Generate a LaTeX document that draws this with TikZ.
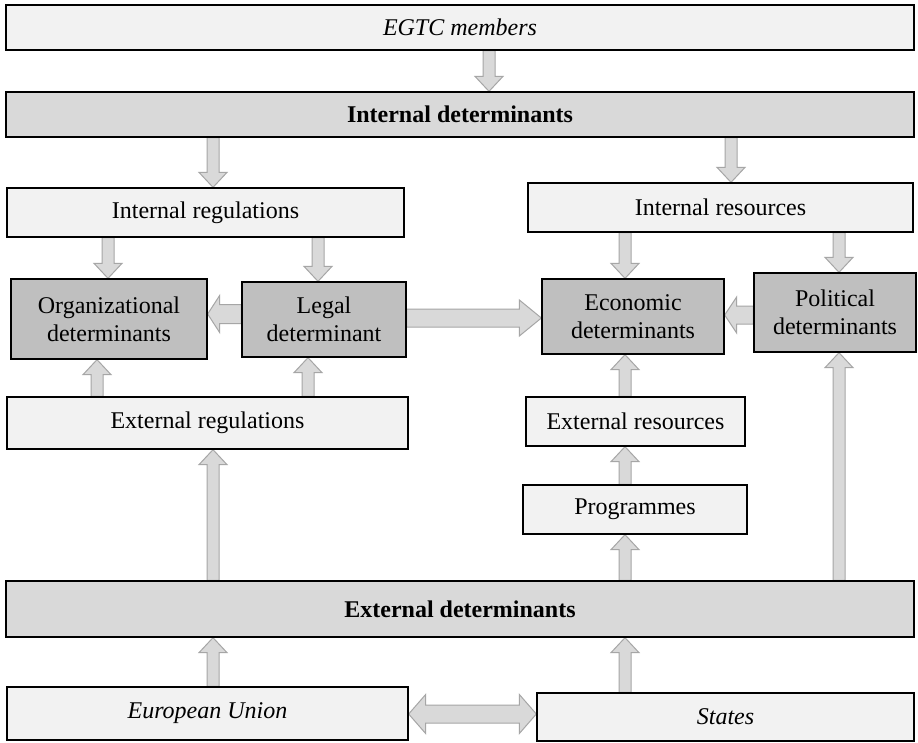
\documentclass[tikz,border=0pt]{standalone}
\usepackage{fontspec}
\setmainfont{Liberation Serif}
\usetikzlibrary{calc}
\pgfdeclarelayer{bg}
\pgfsetlayers{bg,main}
\definecolor{lightfill}{HTML}{F2F2F2}
\definecolor{bandfill}{HTML}{D9D9D9}
\definecolor{detfill}{HTML}{BFBFBF}
\definecolor{arrowfill}{HTML}{D9D9D9}
\definecolor{arrowline}{HTML}{A6A6A6}
\newcommand\blockarrow[5]{%
  \coordinate (ba) at #1; \coordinate (bb) at #2;
  \coordinate (bh) at ($(bb)!#5!(ba)$);
  \draw[arr] ($(ba)!#3!90:(bb)$) -- ($(bh)!#3!90:(bb)$) -- ($(bh)!#4!90:(bb)$) -- (bb)
    -- ($(bh)!#4!-90:(bb)$) -- ($(bh)!#3!-90:(bb)$) -- ($(ba)!#3!-90:(bb)$) -- cycle;}
\newcommand\dblockarrow[5]{%
  \coordinate (ba) at #1; \coordinate (bb) at #2;
  \coordinate (bh) at ($(bb)!#5!(ba)$);
  \coordinate (bg) at ($(ba)!#5!(bb)$);
  \draw[arr] (ba) -- ($(bg)!#4!90:(bb)$) -- ($(bg)!#3!90:(bb)$) -- ($(bh)!#3!90:(bb)$)
    -- ($(bh)!#4!90:(bb)$) -- (bb) -- ($(bh)!#4!-90:(bb)$) -- ($(bh)!#3!-90:(bb)$)
    -- ($(bg)!#3!-90:(bb)$) -- ($(bg)!#4!-90:(bb)$) -- cycle;}
\newcommand\varr[2]{\blockarrow{#1}{#2}{6pt}{14pt}{15pt}}
\begin{document}
\begin{tikzpicture}[x=1pt,y=-1pt,
  box/.style={draw=black, line width=1.3pt, inner sep=0pt,
    font=\fontsize{24}{28}\selectfont, align=center},
  light/.style={box, fill=lightfill},
  band/.style={box, fill=bandfill},
  det/.style={box, fill=detfill},
  arr/.style={fill=arrowfill, draw=arrowline, line width=1pt, line join=miter}]
\useasboundingbox (0,0) rectangle (918,742);

\node[light, minimum width=908pt, minimum height=45pt] (egtc) at (460,27.5) {\itshape EGTC members};
\node[band, minimum width=908pt, minimum height=45pt] (intd) at (460,114.5) {\bfseries Internal determinants};
\node[light, minimum width=397pt, minimum height=49pt] (ireg) at (205.5,212.5) {Internal regulations};
\node[light, minimum width=385pt, minimum height=49pt] (ires) at (720.5,207.5) {Internal resources};
\node[det, minimum width=196pt, minimum height=80pt] (org) at (109,319) {Organizational\\determinants};
\node[det, minimum width=164pt, minimum height=75pt] (legal) at (324,319.5) {Legal\\determinant};
\node[det, minimum width=182pt, minimum height=75pt] (econ) at (633,316.5) {Economic\\determinants};
\node[det, minimum width=162pt, minimum height=79pt] (pol) at (835,312.5) {Political\\determinants};
\node[light, minimum width=401pt, minimum height=52pt] (ereg) at (207.5,423) {External regulations};
\node[light, minimum width=219pt, minimum height=49pt] (eres) at (635.5,421.5) {External resources};
\node[light, minimum width=224pt, minimum height=49pt] (prog) at (635,509.5) {Programmes};
\node[band, minimum width=908pt, minimum height=56pt] (extd) at (460,609) {\bfseries External determinants};
\node[light, minimum width=401pt, minimum height=53pt] (eu) at (207.5,713.5) {\itshape European Union};
\node[light, minimum width=377pt, minimum height=48pt] (states) at (725.5,717) {\itshape States};

\coordinate (cA) at (489,0);
\coordinate (cB) at (213,0);
\coordinate (cC) at (731,0);
\coordinate (cD) at (108,0);
\coordinate (cDb) at (97,0);
\coordinate (cE) at (318,0);
\coordinate (cEb) at (308,0);
\coordinate (cF) at (625,0);
\coordinate (cG) at (839,0);
\coordinate (r1) at (0,314);
\coordinate (r2) at (0,318);
\coordinate (r3) at (0,315);
\coordinate (r4) at (0,714);

\begin{pgfonlayer}{bg}
\fill[white] (0,0) rectangle (918,742);
\varr{(egtc.south -| cA)}{(intd.north -| cA)}
\varr{(intd.south -| cB)}{(ireg.north -| cB)}
\varr{(intd.south -| cC)}{(ires.north -| cC)}
\varr{(ireg.south -| cD)}{(org.north -| cD)}
\varr{(ireg.south -| cE)}{(legal.north -| cE)}
\varr{(ires.south -| cF)}{(econ.north -| cF)}
\varr{(ires.south -| cG)}{(pol.north -| cG)}
\varr{(ereg.north -| cDb)}{(org.south -| cDb)}
\varr{(ereg.north -| cEb)}{(legal.south -| cEb)}
\varr{(eres.north -| cF)}{(econ.south -| cF)}
\varr{(prog.north -| cF)}{(eres.south -| cF)}
\varr{(extd.north -| cF)}{(prog.south -| cF)}
\varr{(extd.north -| cG)}{(pol.south -| cG)}
\varr{(extd.north -| cB)}{(ereg.south -| cB)}
\varr{(eu.north -| cB)}{(extd.south -| cB)}
\varr{(states.north -| cF)}{(extd.south -| cF)}
\blockarrow{(legal.west |- r1)}{(org.east |- r1)}{9.5pt}{18.5pt}{12pt}
\blockarrow{(legal.east |- r2)}{(econ.west |- r2)}{9pt}{18pt}{22pt}
\blockarrow{(pol.west |- r3)}{(econ.east |- r3)}{9pt}{18pt}{12pt}
\dblockarrow{(eu.east |- r4)}{(states.west |- r4)}{9pt}{19.5pt}{17pt}
\end{pgfonlayer}
\end{tikzpicture}
\end{document}
